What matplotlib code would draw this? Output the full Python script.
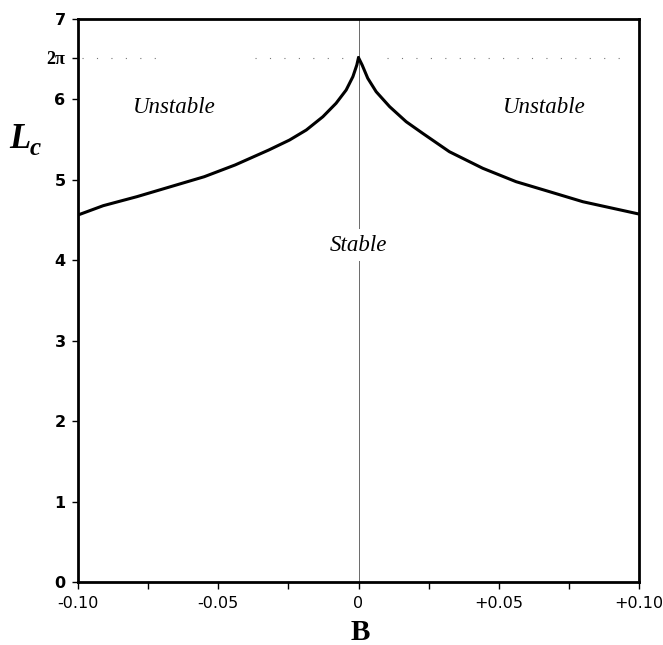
import matplotlib
matplotlib.use("Agg")
import matplotlib.pyplot as plt

# Data
b_left = [-0.100, -0.091, -0.079, -0.067, -0.055, -0.044, -0.032, -0.0246, -0.0186,
          -0.0127, -0.0080, -0.0044, -0.0020, -0.0006, 0.0]
lc_left = [4.563, 4.679, 4.791, 4.915, 5.039, 5.185, 5.371, 5.495, 5.620,
           5.785, 5.952, 6.117, 6.283, 6.428, 6.52]
b_right = [0.0, 0.0013, 0.0033, 0.0063, 0.0111, 0.0170, 0.0229, 0.0324, 0.0443,
           0.0562, 0.0681, 0.0800, 0.100]
lc_right = [6.52, 6.428, 6.263, 6.096, 5.910, 5.723, 5.578, 5.350, 5.144,
            4.977, 4.853, 4.728, 4.575]

peak_value = 6.52            # drawn position of the "2π" reference level
x_ticks = [-0.10, -0.05, 0.0, 0.05, 0.10]
x_tick_labels = ["-0.10", "-0.05", "0", "+0.05", "+0.10"]
y_ticks = [0, 1, 2, 3, 4, 5, 6, 7]
region_labels = ["Unstable", "Unstable", "Stable"]
region_pos = [(-0.0657, 5.90), (0.0664, 5.90), (0.0, 4.19)]

W, H = 663, 645
fig = plt.figure(figsize=(W / 100, H / 100), dpi=100)
ax = fig.add_axes([78 / W, 1 - 582 / H, (639 - 78) / W, (582 - 19) / H])

ax.set_xlim(-0.10, 0.10)
ax.set_ylim(0, 7)

# center vertical line
ax.axvline(0, color="#6a6a6a", lw=0.7, zorder=1)
# dotted 2π level
for x0, x1 in [(-0.0984, -0.0684), (-0.037, -0.003), (0.010, 0.0966)]:
    ax.plot([x0, x1], [peak_value, peak_value], color="#777777", lw=0.8,
            linestyle=(0, (1, 12)), zorder=1)

ax.plot(b_left, lc_left, color="black", lw=2.2, solid_joinstyle="round",
        solid_capstyle="round", zorder=3)
ax.plot(b_right, lc_right, color="black", lw=2.2, solid_joinstyle="round",
        solid_capstyle="round", zorder=3)

for s in ax.spines.values():
    s.set_linewidth(2.0)

ax.set_xticks(x_ticks)
ax.set_xticklabels(x_tick_labels, fontfamily="DejaVu Sans", fontsize=11.5)
ax.set_xticks([-0.075, -0.025, 0.025, 0.075], minor=True)
ax.tick_params(axis="x", which="both", direction="out", length=5, width=1, pad=5)

yt = y_ticks + [peak_value]
ax.set_yticks(yt)
ylabels = [str(v) for v in y_ticks] + ["2π"]
ax.set_yticklabels(ylabels)
for lab in ax.get_yticklabels():
    if lab.get_text() == "2π":
        lab.set_fontfamily("Liberation Serif")
        lab.set_fontweight("bold")
        lab.set_fontsize(13)
    else:
        lab.set_fontfamily("DejaVu Sans")
        lab.set_fontweight("bold")
        lab.set_fontsize(11.5)
ax.tick_params(axis="y", direction="out", length=4, width=1, pad=5)

for txt, (bx, ly) in zip(region_labels, region_pos):
    kw = {}
    if txt == "Stable":
        kw["bbox"] = dict(facecolor="white", edgecolor="none", pad=4)
    ax.text(bx, ly, txt, fontfamily="Liberation Serif", fontstyle="italic",
            fontsize=16.5, ha="center", va="center", zorder=4, **kw)

# axis labels
fig.text(360 / W, 1 - 633 / H, "B", fontfamily="Liberation Serif", fontweight="bold",
         fontsize=21, ha="center", va="center")
fig.text(9 / W, 1 - 148 / H, "L", fontfamily="Liberation Serif", fontweight="bold",
         fontstyle="italic", fontsize=25, ha="left", va="baseline")
fig.text(30 / W, 1 - 155 / H, "c", fontfamily="Liberation Serif", fontweight="bold",
         fontstyle="italic", fontsize=18, ha="left", va="baseline")

fig.savefig("out.png", dpi=100)
